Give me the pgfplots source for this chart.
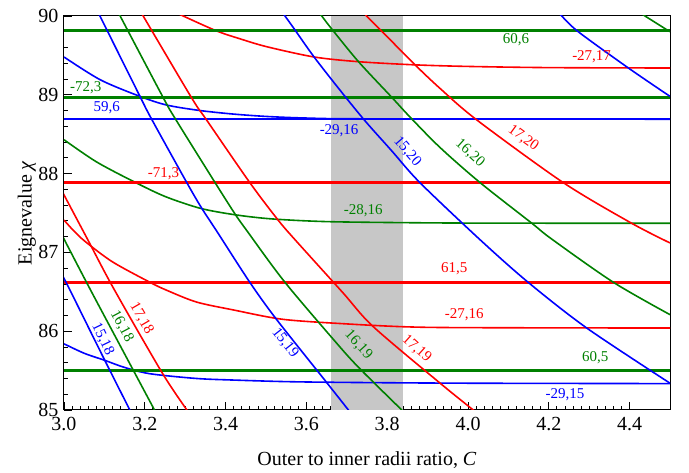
\documentclass[border=0pt]{standalone}
\usepackage{pgfplots}
\pgfplotsset{compat=1.18}
\usepackage{fontspec}
\setmainfont{Liberation Serif}
\definecolor{cR}{RGB}{255,0,0}
\definecolor{cG}{RGB}{0,128,0}
\definecolor{cB}{RGB}{0,0,255}
\definecolor{band}{RGB}{199,199,199}
\newcommand{\lab}{\fontsize{15}{18}\selectfont}
\begin{document}
\begin{tikzpicture}
\begin{axis}[
  at={(0,0)}, anchor=south west,
  scale only axis, width=606pt, height=394pt,
  xmin=3, xmax=4.5, ymin=85, ymax=90,
  xtick={3.0,3.2,3.4,3.6,3.8,4.0,4.2,4.4},
  ytick={85,86,87,88,89,90},
  minor x tick num=9, minor y tick num=4,
  xtick pos=bottom, ytick pos=left,
  tick align=inside,
  major tick length=8pt, minor tick length=4pt,
  every tick/.style={black, line width=0.8pt},
  axis line style={black, line width=1pt},
  tick label style={font=\fontsize{20}{24}\selectfont},
  /pgf/number format/assume math mode=true,
  xticklabel style={/pgf/number format/fixed, /pgf/number format/fixed zerofill, /pgf/number format/precision=1, yshift=-4pt},
  yticklabel style={xshift=-2pt},
  xlabel={Outer to inner radii ratio, \textit{C}},
  ylabel={Eignevalue \textit{χ}},
  label style={font=\fontsize{20}{24}\selectfont},
  xlabel style={at={(axis description cs:0.5,-0.1421)}, anchor=base},
  ylabel style={at={(axis description cs:-0.0536,0.5)}, anchor=base},
]
% shaded band
\addplot[fill=band, draw=none] coordinates {(3.661,85)(3.840,85)(3.840,90)(3.661,90)} -- cycle;

% thin asymptotic curves
\addplot[cR, line width=1.6pt, smooth] coordinates {(3.28,90.04)(3.295,90.0)(3.378,89.81)(3.436,89.71)(3.502,89.61)(3.619,89.48)(3.729,89.42)(3.869,89.38)(4.0,89.36)(4.2,89.345)(4.5,89.34)};
\addplot[cG, line width=1.6pt, smooth] coordinates {(3.0,88.43)(3.08,88.15)(3.172,87.90)(3.25,87.71)(3.337,87.56)(3.42,87.48)(3.502,87.43)(3.6,87.40)(3.708,87.385)(4.0,87.372)(4.5,87.37)};
\addplot[cR, line width=1.6pt, smooth] coordinates {(3.0,87.41)(3.023,87.28)(3.052,87.14)(3.12,86.88)(3.213,86.62)(3.254,86.52)(3.328,86.37)(3.419,86.27)(3.543,86.15)(3.708,86.09)(3.85,86.055)(4.0,86.045)(4.5,86.04)};
\addplot[cB, line width=1.6pt, smooth] coordinates {(3.0,85.84)(3.05,85.72)(3.101,85.63)(3.15,85.54)(3.213,85.46)(3.328,85.40)(3.419,85.38)(3.55,85.36)(3.7,85.35)(4.0,85.34)(4.5,85.335)};
\addplot[cB, line width=1.6pt, smooth] coordinates {(3.0,89.48)(3.09,89.19)(3.188,88.98)(3.254,88.87)(3.337,88.80)(3.42,88.755)(3.502,88.725)(3.6,88.705)(3.75,88.695)(4.5,88.69)};
\addplot[cB, line width=1.6pt] coordinates {(3.0,88.69)(4.5,88.69)};

% thick horizontal lines
\addplot[cG, line width=3pt] coordinates {(3.0,89.81)(4.5,89.81)};
\addplot[cG, line width=3pt] coordinates {(3.0,88.96)(4.5,88.96)};
\addplot[cR, line width=3.2pt] coordinates {(3.0,87.885)(4.5,87.885)};
\addplot[cR, line width=3.2pt] coordinates {(3.0,86.62)(4.5,86.62)};
\addplot[cG, line width=3.2pt] coordinates {(3.0,85.50)(4.5,85.50)};

% steep curves
\addplot[cB, line width=1.6pt, smooth] coordinates {(2.99,86.77)(3.0,86.67)(3.015,86.52)(3.101,85.63)(3.163,85.0)(3.17,84.93)};
\addplot[cG, line width=1.6pt, smooth] coordinates {(2.99,87.27)(3.0,87.17)(3.066,86.52)(3.172,85.50)(3.224,85.0)(3.23,84.94)};
\addplot[cR, line width=1.6pt, smooth] coordinates {(2.99,87.83)(3.0,87.73)(3.06,87.15)(3.122,86.55)(3.242,85.48)(3.304,85.0)(3.31,84.95)};

\addplot[cB, line width=1.6pt, smooth] coordinates {(3.08,90.09)(3.089,90)(3.188,88.98)(3.217,88.69)(3.304,87.885)(3.341,87.56)(3.378,87.27)(3.460,86.62)(3.526,86.15)(3.650,85.35)(3.704,85.0)(3.71,84.96)};
\addplot[cG, line width=1.6pt, smooth] coordinates {(3.13,90.09)(3.139,90)(3.246,88.96)(3.275,88.70)(3.374,87.885)(3.423,87.49)(3.452,87.28)(3.547,86.62)(3.683,85.80)(3.737,85.50)(3.836,85.0)(3.845,84.955)};
\addplot[cR, line width=1.6pt, smooth] coordinates {(3.185,90.1)(3.196,90)(3.316,88.96)(3.353,88.68)(3.460,87.885)(3.530,87.41)(3.572,87.16)(3.69,86.49)(3.765,86.06)(3.931,85.34)(4.013,85.0)(4.02,84.97)};

\addplot[cB, line width=1.6pt, smooth] coordinates {(3.54,90.05)(3.547,90)(3.568,89.85)(3.619,89.48)(3.683,89.06)(3.745,88.67)(3.811,88.29)(3.881,87.885)(4.030,87.16)(4.149,86.62)(4.294,86.04)(4.5,85.34)};
\addplot[cG, line width=1.6pt, smooth] coordinates {(3.63,90.05)(3.638,90)(3.662,89.84)(3.729,89.42)(3.811,88.97)(3.856,88.72)(3.931,88.33)(4.030,87.885)(4.158,87.37)(4.207,87.17)(4.360,86.62)(4.5,86.21)};
\addplot[cR, line width=1.6pt, smooth] coordinates {(3.74,90.05)(3.749,90)(3.786,89.81)(3.869,89.38)(3.931,89.08)(4.022,88.68)(4.236,87.885)(4.405,87.37)(4.5,87.12)};

\addplot[cB, line width=1.6pt, smooth] coordinates {(4.225,90.04)(4.232,90)(4.273,89.80)(4.397,89.34)(4.5,88.98)};
\addplot[cG, line width=1.6pt] coordinates {(4.43,90.03)(4.438,90)(4.5,89.80)};

% labels
\node[cG, font=\lab] at (axis cs:4.119,89.70) {60,6};
\node[cR, font=\lab] at (axis cs:4.306,89.48) {-27,17};
\node[cG, font=\lab] at (axis cs:3.054,89.09) {-72,3};
\node[cB, font=\lab] at (axis cs:3.106,88.84) {59,6};
\node[cB, font=\lab] at (axis cs:3.681,88.544) {-29,16};
\node[cB, font=\lab, rotate=-49] at (axis cs:3.850,88.28) {15,20};
\node[cG, font=\lab, rotate=-42] at (axis cs:4.005,88.26) {16,20};
\node[cR, font=\lab, rotate=-36] at (axis cs:4.137,88.45) {17,20};
\node[cR, font=\lab] at (axis cs:3.246,87.995) {-71,3};
\node[cG, font=\lab] at (axis cs:3.741,87.53) {-28,16};
\node[cR, font=\lab] at (axis cs:3.966,86.79) {61,5};
\node[cR, font=\lab] at (axis cs:3.991,86.21) {-27,16};
\node[cG, font=\lab] at (axis cs:4.315,85.66) {60,5};
\node[cB, font=\lab] at (axis cs:4.240,85.20) {-29,15};
\node[cR, font=\lab, rotate=-60] at (axis cs:3.192,86.16) {17,18};
\node[cG, font=\lab, rotate=-62] at (axis cs:3.143,86.06) {16,18};
\node[cB, font=\lab, rotate=-64] at (axis cs:3.096,85.90) {15,18};
\node[cB, font=\lab, rotate=-52] at (axis cs:3.547,85.85) {15,19};
\node[cG, font=\lab, rotate=-48] at (axis cs:3.729,85.825) {16,19};
\node[cR, font=\lab, rotate=-42] at (axis cs:3.873,85.78) {17,19};
\end{axis}
\pgfresetboundingbox
\path[use as bounding box] (-64pt,-63pt) rectangle (625pt,410pt);
\end{tikzpicture}
\end{document}
